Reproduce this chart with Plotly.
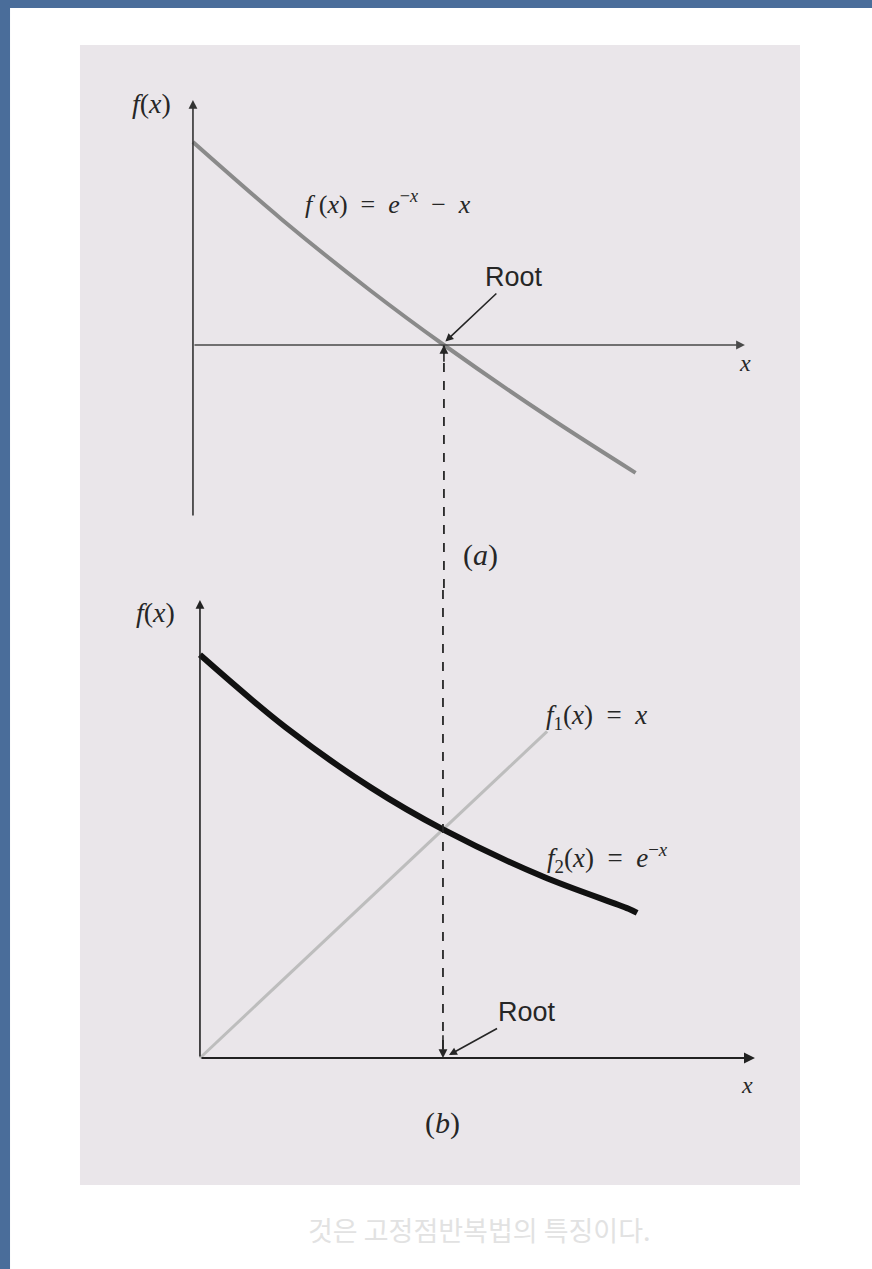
import plotly.graph_objects as go

# --- data ---
root_x = 0.567

# (a) f(x) = e^-x - x
a_x = [0.0, 0.2, 0.4, 0.567, 0.8, 1.0]
a_y = [1.0, 0.62, 0.27, 0.0, -0.35, -0.63]

# (b) f1(x) = x and f2(x) = e^-x
f1_x = [0.0, 0.81]
f1_y = [0.0, 0.81]
f2_x = [0.0, 0.2, 0.4, 0.567, 0.8, 1.0, 1.02]
f2_y = [1.0, 0.82, 0.67, 0.567, 0.45, 0.37, 0.36]

PAPER_BG = "#ffffff"
PANEL_BG = "#eae6ea"
SERIF = "Liberation Serif"
SANS = "Liberation Sans"
INK = "#262626"

fig = go.Figure()

# panel (a)
fig.add_trace(go.Scatter(x=a_x, y=a_y, mode="lines", line=dict(color="#8a8a8a", width=4, shape="spline"),
                         xaxis="x", yaxis="y"))
fig.add_trace(go.Scatter(x=[root_x, root_x], y=[0, -1.207], mode="lines",
                         line=dict(color=INK, width=1.8, dash="dash"), xaxis="x", yaxis="y"))

# panel (b)
fig.add_trace(go.Scatter(x=f1_x, y=f1_y, mode="lines", line=dict(color="#bdbdbd", width=3),
                         xaxis="x2", yaxis="y2"))
fig.add_trace(go.Scatter(x=f2_x, y=f2_y, mode="lines", line=dict(color="#111111", width=6, shape="spline"),
                         xaxis="x2", yaxis="y2"))
fig.add_trace(go.Scatter(x=[root_x, root_x], y=[1.161, 0], mode="lines",
                         line=dict(color=INK, width=1.8, dash="dash"), xaxis="x2", yaxis="y2"))

ax_style = dict(visible=False, showgrid=False, zeroline=False, fixedrange=True)

fig.update_layout(
    width=872, height=1269,
    margin=dict(l=0, r=0, t=0, b=0),
    paper_bgcolor=PAPER_BG,
    plot_bgcolor="rgba(0,0,0,0)",
    showlegend=False,
    xaxis=dict(domain=[0.0917, 0.9174], range=[-0.2553, 1.3714], anchor="y", **ax_style),
    yaxis=dict(domain=[0.5351, 0.9645], range=[-1.207, 1.478], anchor="x", **ax_style),
    xaxis2=dict(domain=[0.0917, 0.9174], range=[-0.280, 1.400], anchor="y2", **ax_style),
    yaxis2=dict(domain=[0.0662, 0.5351], range=[-0.315, 1.161], anchor="x2", **ax_style),
)

# page background: patterned panel and blue frame
fig.add_shape(type="rect", xref="paper", yref="paper", x0=0.0917, x1=0.9174, y0=0.0662, y1=0.9645,
              fillcolor=PANEL_BG, line=dict(width=0), layer="below")
fig.add_shape(type="rect", xref="paper", yref="paper", x0=0, x1=0.0115, y0=0, y1=1,
              fillcolor="#4a6d9a", line=dict(width=0), layer="below")
fig.add_shape(type="rect", xref="paper", yref="paper", x0=0, x1=1, y0=0.9937, y1=1,
              fillcolor="#4a6d9a", line=dict(width=0), layer="below")


def axis_arrow(xr, yr, x0, y0, x1, y1, color="#333333", width=1.6):
    fig.add_annotation(x=x1, y=y1, ax=x0, ay=y0, xref=xr, yref=yr, axref=xr, ayref=yr,
                       text="", showarrow=True, arrowhead=2, arrowsize=1.1,
                       arrowwidth=width, arrowcolor=color, standoff=0, startstandoff=0)


# axes with arrowheads
axis_arrow("x", "y", 0, -0.847, 0, 1.207)
axis_arrow("x", "y", 0, 0, 1.247, 0, color="#4a4a4a")
axis_arrow("x2", "y2", 0, 0, 0, 1.136, color="#222222")
axis_arrow("x2", "y2", 0, 0, 1.295, 0, color="#222222", width=2)

# arrowheads on the dashed root line
axis_arrow("x", "y", root_x, -0.09, root_x, 0, color=INK, width=1.6)
axis_arrow("x2", "y2", root_x, 0.06, root_x, 0, color=INK, width=1.6)

# Root callouts
fig.add_annotation(x=root_x, y=0.01, ax=0.725, ay=0.335, xref="x", yref="y", axref="x", ayref="y",
                   text="Root", showarrow=True, arrowhead=2, arrowsize=1, arrowwidth=1.6,
                   arrowcolor=INK, standoff=2, font=dict(family=SANS, size=27, color=INK))
fig.add_annotation(x=root_x + 0.01, y=0.005, ax=0.763, ay=0.114, xref="x2", yref="y2", axref="x2", ayref="y2",
                   text="Root", showarrow=True, arrowhead=2, arrowsize=1, arrowwidth=1.6,
                   arrowcolor=INK, standoff=2, font=dict(family=SANS, size=27, color=INK))

labels = [
    (0.1743, 0.9188, "<i>f</i>(<i>x</i>)", 28),
    (0.1778, 0.5177, "<i>f</i>(<i>x</i>)", 28),
    (0.445, 0.8408, "<i>f</i> (<i>x</i>)  =  <i>e</i><sup>−<i>x</i></sup>  −  <i>x</i>", 26),
    (0.8544, 0.7139, "<i>x</i>", 24),
    (0.5505, 0.5626, "(<i>a</i>)", 30),
    (0.6846, 0.4350, "<i>f</i><sub>1</sub>(<i>x</i>)  =  <i>x</i>", 27),
    (0.6972, 0.3239, "<i>f</i><sub>2</sub>(<i>x</i>)  =  <i>e</i><sup>−<i>x</i></sup>", 27),
    (0.8567, 0.145, "<i>x</i>", 24),
    (0.508, 0.115, "(<i>b</i>)", 30),
]
for lx, ly, txt, sz in labels:
    fig.add_annotation(x=lx, y=ly, xref="paper", yref="paper", xanchor="center", yanchor="middle",
                       text=txt, showarrow=False, font=dict(family=SERIF, size=sz, color=INK))

# faint text from the scanned page
fig.add_annotation(x=0.55, y=0.031, xref="paper", yref="paper", xanchor="center", yanchor="middle",
                   text="것은 고정점반복법의 특징이다.", showarrow=False,
                   font=dict(family="Noto Sans CJK KR", size=27, color="#e2e2e2"))

fig.write_html("out.html", config={"displayModeBar": False},
               post_script="document.body.style.margin='0';")
